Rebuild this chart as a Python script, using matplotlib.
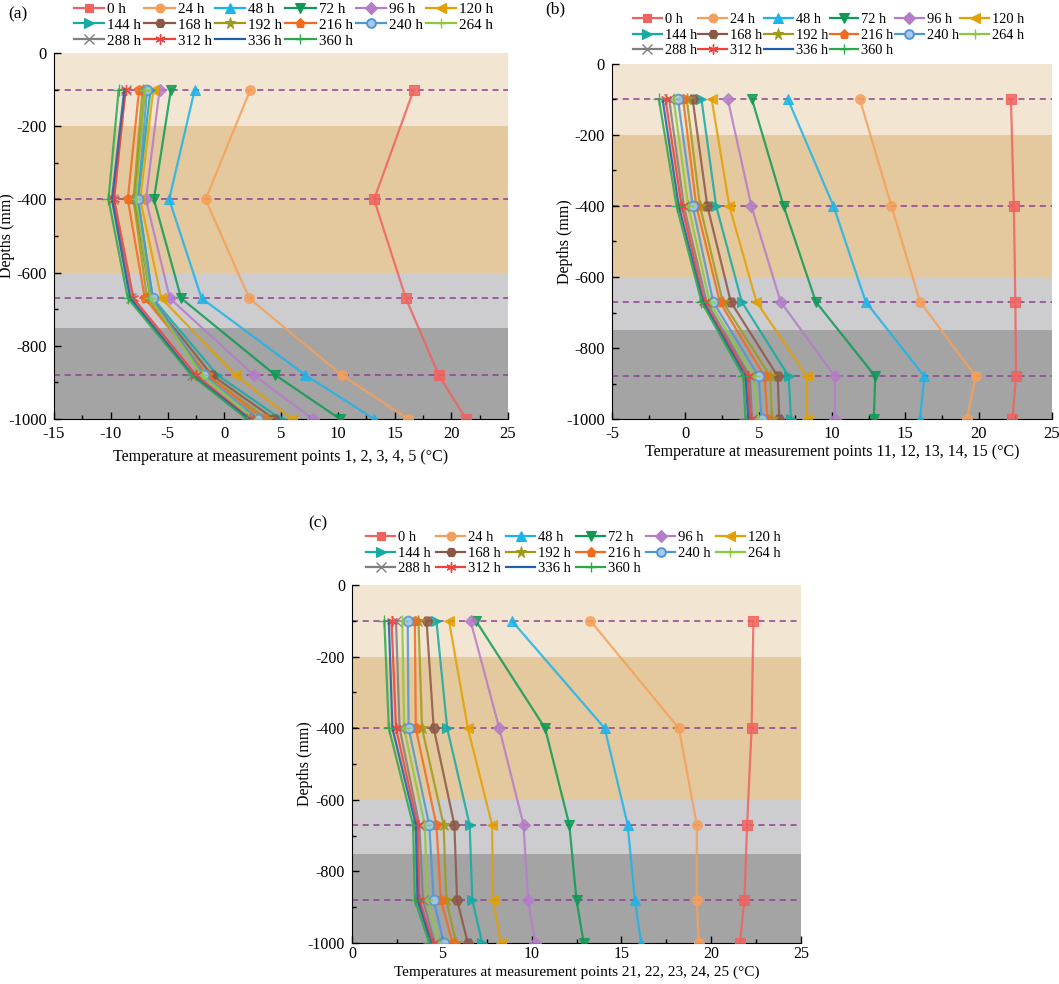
import matplotlib
matplotlib.use("Agg")
import matplotlib.pyplot as plt
from matplotlib.ticker import MultipleLocator

plt.rcParams['font.family'] = ['Liberation Serif', 'DejaVu Serif']
plt.rcParams['axes.unicode_minus'] = False

depths = [-100, -400, -670, -880, -1000]
hours = ['0 h', '24 h', '48 h', '72 h', '96 h', '120 h', '144 h', '168 h',
         '192 h', '216 h', '240 h', '264 h', '288 h', '312 h', '336 h', '360 h']

# Panel (a): measurement points 1-5
temps_a = [
    [16.7, 13.2, 16.0, 18.9, 21.3],
    [2.3, -1.65, 2.2, 10.35, 16.2],
    [-2.6, -4.85, -2.0, 7.15, 13.2],
    [-4.7, -6.2, -3.8, 4.5, 10.2],
    [-5.7, -6.9, -4.8, 2.6, 7.8],
    [-6.25, -7.4, -5.55, 1.0, 6.0],
    [-6.5, -7.6, -6.3, -0.6, 5.0],
    [-7.0, -7.9, -6.5, -1.1, 4.4],
    [-7.2, -8.0, -6.8, -1.5, 3.8],
    [-7.5, -8.5, -7.0, -1.5, 3.4],
    [-6.8, -7.6, -6.3, -1.8, 3.0],
    [-7.0, -7.8, -6.5, -2.0, 2.7],
    [-8.7, -9.8, -8.2, -2.8, 2.2],
    [-8.7, -9.7, -8.0, -2.5, 2.3],
    [-8.8, -9.9, -8.3, -2.8, 2.2],
    [-9.3, -10.2, -8.5, -2.9, 2.0],
]

# Panel (b): measurement points 11-15
temps_b = [
    [22.2, 22.4, 22.5, 22.55, 22.3],
    [11.9, 14.05, 16.0, 19.8, 19.2],
    [7.0, 10.1, 12.3, 16.3, 16.0],
    [4.55, 6.7, 8.9, 12.95, 12.85],
    [2.9, 4.5, 6.5, 10.2, 10.2],
    [1.8, 3.0, 4.85, 8.3, 8.3],
    [1.1, 2.1, 3.85, 7.05, 7.2],
    [0.5, 1.5, 3.1, 6.3, 6.4],
    [0.1, 1.0, 2.55, 5.8, 5.9],
    [-0.15, 0.75, 2.35, 5.4, 5.6],
    [-0.5, 0.5, 1.9, 5.0, 5.2],
    [-0.8, 0.2, 1.65, 4.7, 4.95],
    [-1.1, -0.1, 1.45, 4.4, 4.55],
    [-1.35, -0.25, 1.3, 4.25, 4.45],
    [-1.55, -0.45, 1.2, 4.1, 4.3],
    [-1.8, -0.6, 1.1, 3.95, 4.1],
]

# Panel (c): measurement points 21-25
temps_c = [
    [22.35, 22.25, 22.0, 21.85, 21.6],
    [13.27, 18.2, 19.2, 19.2, 19.3],
    [8.9, 14.07, 15.35, 15.75, 16.1],
    [6.9, 10.75, 12.1, 12.5, 12.9],
    [6.6, 8.2, 9.55, 9.8, 10.2],
    [5.4, 6.45, 7.8, 7.85, 8.3],
    [4.7, 5.3, 6.55, 6.7, 7.25],
    [4.15, 4.55, 5.7, 5.85, 6.45],
    [3.7, 3.9, 5.1, 5.25, 5.8],
    [3.5, 3.55, 4.7, 4.95, 5.6],
    [3.1, 3.15, 4.3, 4.55, 5.1],
    [2.8, 2.9, 4.05, 4.2, 4.85],
    [2.45, 2.65, 3.75, 3.95, 4.6],
    [2.2, 2.45, 3.65, 3.75, 4.5],
    [2.05, 2.25, 3.55, 3.65, 4.4],
    [1.8, 2.05, 3.4, 3.5, 4.3],
]

colors = ['#F0625E', '#F5A05A', '#1CB4E8', '#0E9A55', '#B57CC8', '#E3A000',
          '#14ABA3', '#8C5846', '#A09A1C', '#F26B1D', '#4F97D2', '#8DC63F',
          '#7F7F7F', '#F2403C', '#1E60AC', '#2CA84C']
markers = ['s', 'o', '^', 'v', 'D', '<', '>', 'H', '*', 'p', 'o', '+',
           'x', (6, 2, 0), None, '+']
msizes = [6.5, 7, 7.5, 7.5, 6.5, 7.5, 7.5, 7.5, 9, 7.5, 7, 8, 7.5, 8, 6, 8]

layer_bounds = [(0, -200), (-200, -600), (-600, -750), (-750, -1000)]
layer_colors = ['#F2E6D3', '#E4C99F', '#CDCDCF', '#A4A4A4']
dash_depths = [-100, -400, -670, -880]

fig = plt.figure(figsize=(10.59, 9.84), dpi=100)
W, H = 1059, 984

def add_ax(x0, y0, x1, y1):
    return fig.add_axes([x0 / W, 1 - y1 / H, (x1 - x0) / W, (y1 - y0) / H])

def style_kw(i, scale=1.0):
    kw = dict(color=colors[i], marker=markers[i], ms=msizes[i] * scale, lw=1.6)
    if markers[i] in ('+', 'x') or isinstance(markers[i], tuple):
        kw['mew'] = 1.0
    else:
        kw['mew'] = 0.8
    if i == 10:
        kw.update(markerfacecolor='#A9CBEA', markeredgecolor=colors[i], mew=1.4)
    return kw

panels = [
    dict(box=(54, 53, 508, 419), data=temps_a, xlim=(-15, 25), label='(a)', lpos=(8, 14),
         xlabel='Temperature at measurement points 1, 2, 3, 4, 5 (\u00b0C)',
         leg=(74, 25), cs=0.2, lfs=10.9, xl_off=38, tfs=12, tpad=5, xfs=11.5),
    dict(box=(612, 64, 1052, 419), data=temps_b, xlim=(-5, 25), label='(b)', lpos=(545, 9),
         xlabel='Temperature at measurement points 11, 12, 13, 14, 15 (\u00b0C)',
         leg=(633, 35), cs=0.1, lfs=10.4, xl_off=33, tfs=12, tpad=5, xfs=11.5),
    dict(box=(352, 585, 801, 943), data=temps_c, xlim=(0, 25), label='(c)', lpos=(308, 523),
         xlabel='Temperatures at measurement points 21, 22, 23, 24, 25 (\u00b0C)',
         leg=(366, 553), cs=0.35, lfs=10.5, xl_off=29, tfs=11.5, tpad=2, xfs=11),
]

order = [0, 6, 12, 1, 7, 13, 2, 8, 14, 3, 9, 15, 4, 10, 5, 11]

for p in panels:
    ax = add_ax(*p['box'])
    x0, y0, x1, y1 = p['box']
    xmin, xmax = p['xlim']
    for (top, bot), c in zip(layer_bounds, layer_colors):
        ax.axhspan(bot, top, color=c, zorder=0, lw=0)
    for d in dash_depths:
        ax.axhline(d, color='#8E3F94', ls=(0, (4, 3)), lw=1.1, zorder=1)
    for i, h in enumerate(hours):
        ax.plot(p['data'][i], depths, label=h, zorder=3 + i * 0.01, alpha=0.85,
                **style_kw(i))
    ax.set_xlim(xmin, xmax)
    ax.set_ylim(-1000, 0)
    ax.xaxis.set_major_locator(MultipleLocator(5))
    ax.xaxis.set_minor_locator(MultipleLocator(2.5))
    ax.yaxis.set_major_locator(MultipleLocator(200))
    ax.yaxis.set_minor_locator(MultipleLocator(100))
    ax.tick_params(which='both', direction='in', labelsize=p['tfs'])
    ax.tick_params(which='major', length=5, width=1, pad=5)
    ax.tick_params(axis='x', which='major', pad=p['tpad'])
    ax.tick_params(which='minor', length=3, width=1)
    ax.spines['top'].set_visible(False)
    ax.spines['right'].set_visible(False)
    ax.set_xlabel(p['xlabel'], fontsize=p['xfs'], va='center')
    ax.xaxis.set_label_coords(0.5, -p['xl_off'] / (y1 - y0))
    ax.set_ylabel('Depths (mm)', fontsize=11.5, va='center')
    ax.yaxis.set_label_coords(-47 / (x1 - x0), 0.5)
    lx, ly = p['leg']
    handles = [plt.Line2D([], [], **style_kw(i, 0.9)) for i in order]
    labels = [hours[i] for i in order]
    fig.legend(handles=handles, labels=labels, ncol=6, loc='center left',
               bbox_to_anchor=(lx / W, 1 - ly / H), frameon=False, fontsize=p['lfs'],
               handlelength=2.0, handletextpad=0.2, columnspacing=p['cs'],
               labelspacing=0.15, borderaxespad=0, borderpad=0)
    fig.text(p['lpos'][0] / W, 1 - p['lpos'][1] / H, p['label'], fontsize=12.5,
             ha='left', va='center')

fig.savefig('out.png', dpi=100)
